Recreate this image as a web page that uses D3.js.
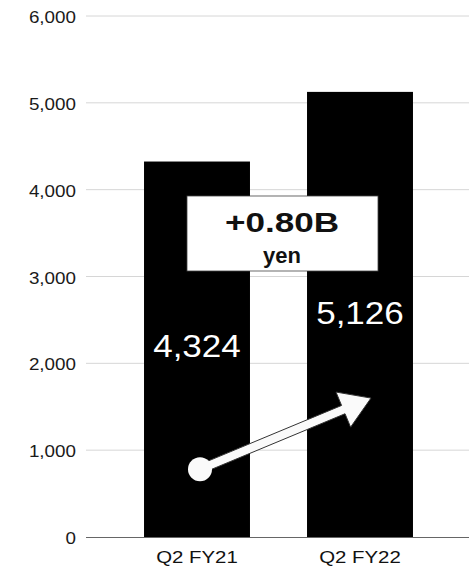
<!DOCTYPE html>
<html>
<head>
<meta charset="utf-8">
<script src="https://cdn.jsdelivr.net/npm/d3@7"></script>
<style>
  html, body { margin: 0; padding: 0; background: #fff; }
  svg { display: block; font-family: "Liberation Sans", Arial, sans-serif; }
</style>
</head>
<body>
<svg id="chart" width="469" height="569"></svg>
<script>
// Quarterly values
const categories = ["Q2 FY21", "Q2 FY22"];
const values = [4324, 5126];
const yTicks = [0, 1000, 2000, 3000, 4000, 5000, 6000];
const changeLabel = "+0.80B";
const changeUnit = "yen";

const svg = d3.select("#chart");
const plot = { left: 86, right: 469, top: 16, bottom: 537 };

const y = d3.scaleLinear().domain([0, 6000]).range([plot.bottom, plot.top]);
const x = d3.scaleBand().domain(categories)
  .range([115.5, 441.5]).paddingInner(0.35).paddingOuter(0.175);

// Widen a text element's glyphs by a factor, keeping it as real text
function stretch(sel, factor) {
  sel.each(function () {
    const w = this.getComputedTextLength();
    d3.select(this).attr("textLength", w * factor).attr("lengthAdjust", "spacingAndGlyphs");
  });
}

// Horizontal gridlines
svg.append("g").selectAll("line")
  .data(yTicks.filter(d => d > 0))
  .join("line")
  .attr("x1", plot.left).attr("x2", plot.right)
  .attr("y1", d => y(d)).attr("y2", d => y(d))
  .attr("stroke", "#d6d6d6").attr("stroke-width", 1);

// Y tick labels
const fmt = d3.format(",");
svg.append("g").selectAll("text")
  .data(yTicks)
  .join("text")
  .attr("x", 76).attr("y", d => y(d) + 7)
  .attr("text-anchor", "end")
  .attr("font-size", 16.5).attr("fill", "#1a1a1a")
  .text(d => fmt(d))
  .call(stretch, 1.14);

// Bars
svg.append("g").selectAll("rect")
  .data(values)
  .join("rect")
  .attr("x", (d, i) => x(categories[i]))
  .attr("width", x.bandwidth())
  .attr("y", d => y(d))
  .attr("height", d => y(0) - y(d))
  .attr("fill", "#000");

// Baseline
svg.append("line")
  .attr("x1", plot.left).attr("x2", plot.right)
  .attr("y1", y(0) + 0.5).attr("y2", y(0) + 0.5)
  .attr("stroke", "#666").attr("stroke-width", 1);

// Category labels
svg.append("g").selectAll("text")
  .data(categories)
  .join("text")
  .attr("x", d => x(d) + x.bandwidth() / 2)
  .attr("y", 563)
  .attr("text-anchor", "middle")
  .attr("font-size", 17).attr("fill", "#111")
  .text(d => d)
  .call(stretch, 1.2);

// Value labels inside the bars
const labelOffsets = [195, 232];
svg.append("g").selectAll("text")
  .data(values)
  .join("text")
  .attr("x", (d, i) => x(categories[i]) + x.bandwidth() / 2)
  .attr("y", (d, i) => y(d) + labelOffsets[i])
  .attr("text-anchor", "middle")
  .attr("font-size", 31).attr("fill", "#fff")
  .text(d => fmt(d))
  .call(stretch, 1.13);

// Change arrow from first bar to second bar
const p0 = [x(categories[0]) + x.bandwidth() / 2 + 3, y(780)];
const p1 = [x(categories[1]) + x.bandwidth() / 2 + 11, y(1600)];
const dx = p1[0] - p0[0], dy = p1[1] - p0[1];
const len = Math.hypot(dx, dy);
const ux = dx / len, uy = dy / len, nx = -uy, ny = ux;
const headLen = 30, headHalf = 19, shaftHalf = 4.5;
const bx = p1[0] - ux * headLen, by = p1[1] - uy * headLen;
const pts = [
  [p0[0] + nx * shaftHalf, p0[1] + ny * shaftHalf],
  [bx + nx * shaftHalf, by + ny * shaftHalf],
  [bx + nx * headHalf, by + ny * headHalf],
  p1,
  [bx - nx * headHalf, by - ny * headHalf],
  [bx - nx * shaftHalf, by - ny * shaftHalf],
  [p0[0] - nx * shaftHalf, p0[1] - ny * shaftHalf]
];
const arrow = svg.append("g");
arrow.append("path")
  .attr("d", d3.line()(pts) + "Z")
  .attr("fill", "#fafafa").attr("stroke", "#333").attr("stroke-width", 1)
  .attr("stroke-linejoin", "miter");
arrow.append("circle")
  .attr("cx", p0[0]).attr("cy", p0[1]).attr("r", 12)
  .attr("fill", "#fafafa");

// Change callout box
const boxX = 187, boxY = 196, boxW = 191, boxH = 75;
svg.append("rect")
  .attr("x", boxX).attr("y", boxY).attr("width", boxW).attr("height", boxH)
  .attr("fill", "#fff").attr("stroke", "#444").attr("stroke-width", 0.8);
svg.append("text")
  .attr("x", boxX + boxW / 2 - 0.5).attr("y", boxY + 36)
  .attr("text-anchor", "middle")
  .attr("font-size", 27).attr("font-weight", "bold").attr("fill", "#111")
  .text(changeLabel)
  .call(stretch, 1.3);
svg.append("text")
  .attr("x", boxX + boxW / 2 - 0.5).attr("y", boxY + 67)
  .attr("text-anchor", "middle")
  .attr("font-size", 22).attr("font-weight", "bold").attr("fill", "#111")
  .text(changeUnit);
</script>
</body>
</html>
